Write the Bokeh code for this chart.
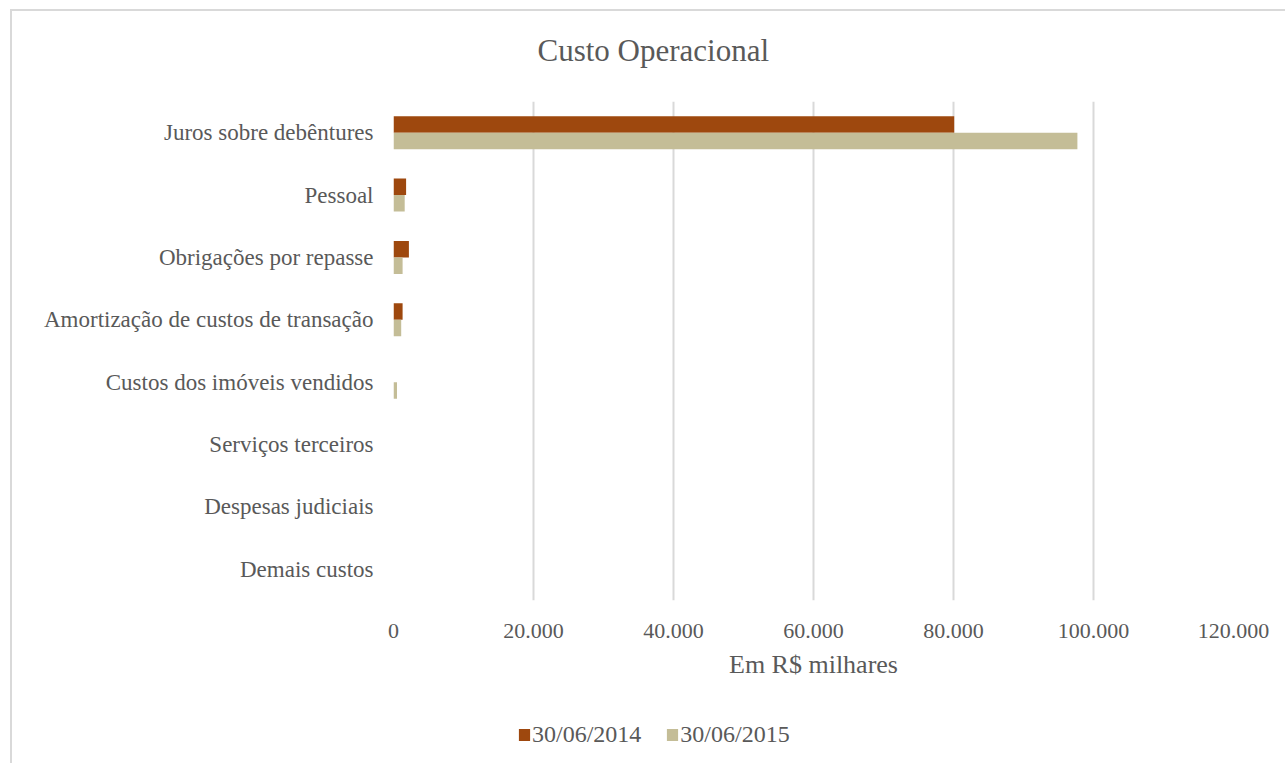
from bokeh.plotting import figure
from bokeh.layouts import column
from bokeh.models import (Range1d, FactorRange, ColumnDataSource, Legend, LegendItem,
                          CustomJSTickFormatter, FixedTicker, Title)
from bokeh.transform import dodge
from bokeh.embed import file_html
from bokeh.resources import INLINE

categories = ["Juros sobre debêntures", "Pessoal", "Obrigações por repasse",
              "Amortização de custos de transação", "Custos dos imóveis vendidos",
              "Serviços terceiros", "Despesas judiciais", "Demais custos"]
v2014 = [80100, 1800, 2200, 1300, 0, 0, 0, 0]
v2015 = [97700, 1600, 1300, 1100, 500, 0, 0, 0]
series_names = ["30/06/2014", "30/06/2015"]
x_ticks = [0, 20000, 40000, 60000, 80000, 100000, 120000]

FONT = "Liberation Serif"
TXT = "#595959"
C2014 = "#9E480E"
C2015 = "#C4BD97"
series_colors = [C2014, C2015]

src = ColumnDataSource(dict(cat=categories, v2014=v2014, v2015=v2015))

p = figure(width=1273, height=699,
           x_range=Range1d(0, 120000),
           y_range=FactorRange(factors=list(reversed(categories)), range_padding=0),
           output_backend="svg", toolbar_location=None,
           min_border_left=381, min_border_right=52,
           min_border_top=89, min_border_bottom=110)
p.outline_line_color = None
p.title.text = ""

r1 = p.hbar(y=dodge("cat", 0.132, range=p.y_range), right="v2014", left=0, height=0.264,
            source=src, fill_color=C2014, line_color=None)
r2 = p.hbar(y=dodge("cat", -0.132, range=p.y_range), right="v2015", left=0, height=0.264,
            source=src, fill_color=C2015, line_color=None)

# axes
xa = p.xaxis[0]
xa.ticker = FixedTicker(ticks=x_ticks)
xa.formatter = CustomJSTickFormatter(code="""
    return tick.toFixed(0).replace(/\\B(?=(\\d{3})+(?!\\d))/g, ".");
""")
xa.axis_line_color = None
xa.major_tick_line_color = None
xa.minor_tick_line_color = None
xa.major_tick_out = 0
xa.major_label_standoff = 23
xa.major_label_text_font = FONT
xa.major_label_text_font_size = "22px"
xa.major_label_text_color = TXT
xa.axis_label = "Em R$ milhares"
xa.axis_label_text_font = FONT
xa.axis_label_text_font_size = "26px"
xa.axis_label_text_font_style = "normal"
xa.axis_label_text_color = TXT
xa.axis_label_standoff = 9

ya = p.yaxis[0]
ya.axis_line_color = None
ya.major_tick_line_color = None
ya.minor_tick_line_color = None
ya.major_tick_out = 0
ya.major_label_standoff = 20
ya.major_label_text_font = FONT
ya.major_label_text_font_size = "23px"
ya.major_label_text_color = TXT

p.xgrid.grid_line_color = "#d9d9d9"
p.xgrid.grid_line_width = 2
p.ygrid.grid_line_color = None

# title (with a small spacer between title and plot area)
p.add_layout(Title(text=" ", text_font_size="10px", standoff=2), "above")
p.add_layout(Title(text="Custo Operacional", align="left", offset=144, standoff=38,
                   text_font=FONT, text_font_size="31px", text_color=TXT,
                   text_font_style="normal"), "above")

# legend strip below the chart
lg = figure(width=1273, height=53, x_range=Range1d(0, 1), y_range=Range1d(0, 1),
            output_backend="svg", toolbar_location=None,
            min_border_left=0, min_border_right=0, min_border_top=0, min_border_bottom=0)
lg.axis.visible = False
lg.grid.visible = False
lg.outline_line_color = None
items = []
for name, col in zip(series_names, series_colors):
    proxy = ColumnDataSource(dict(y=[-1.0], right=[0.0]))
    rr = lg.hbar(y="y", right="right", left=0, height=0.5, source=proxy,
                 fill_color=col, line_color=None)
    items.append(LegendItem(label=name, renderers=[rr]))

legend = Legend(items=items, orientation="horizontal", location=(124, 15),
                glyph_width=14, glyph_height=15, label_standoff=1, spacing=24,
                padding=0, margin=0, border_line_color=None, background_fill_alpha=0,
                label_text_font=FONT, label_text_font_size="24px", label_text_color=TXT)
lg.add_layout(legend, "center")

layout = column(p, lg, spacing=0)
layout.styles = {"margin-left": "10px", "margin-top": "9px",
                 "border-left": "2px solid #d9d9d9", "border-top": "2px solid #d9d9d9"}

open("out.html", "w").write(file_html(layout, INLINE))
